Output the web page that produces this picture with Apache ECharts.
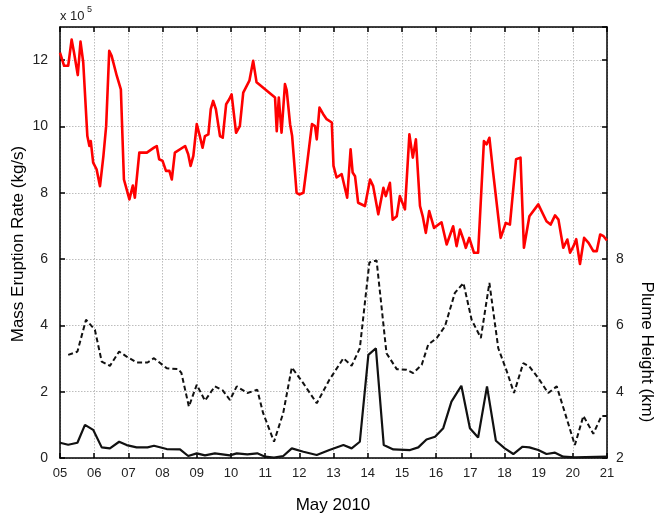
<!DOCTYPE html>
<html>
<head>
<meta charset="utf-8">
<script src="https://cdn.jsdelivr.net/npm/echarts@6/dist/echarts.min.js"></script>
<style>
html,body{margin:0;padding:0;background:#fff;}
#chart{width:659px;height:517px;}
</style>
</head>
<body>
<div id="chart"></div>
<script>
// Mass eruption rate (x 10^5 kg/s), red line
var redDays = [5.00,5.12,5.24,5.34,5.41,5.52,5.60,5.68,5.80,5.86,5.90,5.97,6.07,6.17,6.27,6.35,6.44,6.51,6.66,6.78,6.87,6.95,7.03,7.13,7.19,7.32,7.54,7.75,7.83,7.90,8.00,8.10,8.20,8.27,8.36,8.66,8.75,8.82,8.90,9.00,9.09,9.17,9.24,9.34,9.41,9.48,9.56,9.68,9.76,9.86,9.95,10.02,10.15,10.26,10.36,10.54,10.65,10.75,11.29,11.34,11.40,11.48,11.58,11.63,11.73,11.79,11.92,12.00,12.12,12.22,12.37,12.46,12.51,12.59,12.70,12.80,12.95,13.00,13.09,13.24,13.40,13.50,13.56,13.63,13.72,13.92,14.07,14.16,14.31,14.46,14.53,14.65,14.73,14.85,14.94,15.09,15.22,15.32,15.41,15.53,15.61,15.70,15.80,15.94,16.16,16.31,16.50,16.60,16.70,16.80,16.87,16.97,17.11,17.23,17.40,17.48,17.56,17.67,17.89,18.04,18.16,18.34,18.47,18.57,18.73,18.99,19.23,19.35,19.48,19.58,19.72,19.84,19.92,20.02,20.10,20.21,20.33,20.46,20.60,20.70,20.80,20.90,21.00];
var redValues = [12.23,11.83,11.83,12.62,12.23,11.55,12.56,11.93,9.71,9.41,9.56,8.91,8.71,8.20,9.11,10.01,12.28,12.13,11.53,11.12,8.40,8.10,7.80,8.22,7.85,9.21,9.21,9.36,9.41,9.01,8.96,8.66,8.66,8.40,9.21,9.41,9.16,8.81,9.11,10.07,9.71,9.36,9.71,9.76,10.52,10.77,10.52,9.71,9.66,10.67,10.82,10.97,9.81,10.01,11.02,11.38,11.98,11.33,10.87,9.86,10.87,9.81,11.28,11.10,10.07,9.71,8.00,7.95,8.00,8.81,10.07,10.01,9.61,10.57,10.37,10.22,10.12,8.81,8.46,8.56,7.85,9.31,8.61,8.50,7.70,7.60,8.40,8.20,7.35,8.15,7.90,8.30,7.19,7.29,7.90,7.50,9.76,9.06,9.61,7.60,7.29,6.79,7.45,6.94,7.11,6.44,6.99,6.39,6.89,6.59,6.34,6.64,6.19,6.19,9.56,9.46,9.66,8.61,6.64,7.09,7.04,9.01,9.06,6.34,7.29,7.65,7.14,7.04,7.32,7.19,6.34,6.59,6.19,6.39,6.60,5.85,6.64,6.49,6.24,6.24,6.74,6.69,6.56];

// Plume height (km), dashed black line, right axis
var plumeDays = [5.24,5.51,5.76,6.02,6.22,6.46,6.73,6.95,7.24,7.56,7.75,8.12,8.46,8.55,8.77,9.00,9.24,9.53,9.76,9.97,10.17,10.48,10.77,10.94,11.26,11.53,11.78,12.12,12.51,12.88,13.29,13.53,13.77,14.05,14.26,14.55,14.85,15.14,15.33,15.58,15.77,16.02,16.26,16.55,16.80,17.04,17.31,17.56,17.82,18.07,18.28,18.55,18.73,18.99,19.28,19.53,19.77,20.06,20.31,20.60,20.84,21.00];
var plumeKm = [5.11,5.21,6.17,5.87,4.91,4.78,5.21,5.06,4.88,4.88,5.01,4.71,4.68,4.57,3.55,4.21,3.73,4.16,4.04,3.75,4.16,3.96,4.06,3.36,2.49,3.36,4.73,4.25,3.65,4.36,5.01,4.78,5.31,7.90,7.96,5.16,4.68,4.66,4.56,4.81,5.42,5.62,5.97,6.98,7.28,6.17,5.62,7.28,5.31,4.61,3.96,4.86,4.76,4.41,3.96,4.16,3.36,2.39,3.27,2.73,3.27,3.27];

// Mass eruption rate derived from plume height (x 10^5 kg/s), solid black line
var merDays = [5.00,5.24,5.51,5.73,5.97,6.22,6.46,6.73,6.95,7.24,7.56,7.75,8.12,8.51,8.75,9.00,9.24,9.53,9.97,10.17,10.48,10.77,11.00,11.26,11.53,11.78,12.12,12.51,12.88,13.29,13.53,13.77,14.02,14.24,14.47,14.75,15.24,15.48,15.72,15.97,16.21,16.45,16.74,16.99,17.23,17.49,17.75,18.01,18.26,18.53,18.73,18.99,19.23,19.48,19.72,20.06,21.00];
var merValues = [0.46,0.40,0.46,1.00,0.85,0.32,0.29,0.49,0.39,0.32,0.32,0.37,0.27,0.26,0.06,0.14,0.08,0.14,0.08,0.14,0.11,0.14,0.04,0.01,0.06,0.29,0.19,0.09,0.24,0.39,0.29,0.49,3.11,3.31,0.39,0.26,0.24,0.32,0.56,0.64,0.90,1.70,2.18,0.90,0.62,2.16,0.52,0.29,0.12,0.34,0.32,0.24,0.12,0.16,0.04,0.02,0.04];

var dayTicks = ['05','06','07','08','09','10','11','12','13','14','15','16','17','18','19','20','21'];

function zip(a, b) { return a.map(function (d, i) { return [d, b[i]]; }); }

var chart = echarts.init(document.getElementById('chart'));
var FONT = 'Liberation Sans';
chart.setOption({
  animation: false,
  backgroundColor: '#fff',
  grid: { left: 60, right: 52, top: 27, bottom: 59, show: false },
  xAxis: [{
    type: 'value', min: 5, max: 21, interval: 1, position: 'bottom',
    axisLine: { show: true, onZero: false, lineStyle: { color: '#000', width: 1.5 } },
    axisTick: { show: true, inside: true, length: 5, lineStyle: { color: '#000', width: 1.5 } },
    axisLabel: { color: '#222', fontFamily: FONT, fontSize: 13, margin: 9,
      formatter: function (v) { return dayTicks[Math.round(v) - 5]; } },
    splitLine: { show: true, lineStyle: { color: '#bdbdbd', type: [1.5, 1.5], width: 1 } }
  }, {
    type: 'value', min: 5, max: 21, interval: 1, position: 'top',
    axisLine: { show: true, onZero: false, lineStyle: { color: '#000', width: 1.5 } },
    axisTick: { show: true, inside: true, length: 5, lineStyle: { color: '#000', width: 1.5 } },
    axisLabel: { show: false },
    splitLine: { show: false }
  }],
  yAxis: [{
    type: 'value', min: 0, max: 13, interval: 2, position: 'left',
    axisLine: { show: true, onZero: false, lineStyle: { color: '#000', width: 1.5 } },
    axisTick: { show: true, inside: true, length: 5, lineStyle: { color: '#000', width: 1.5 } },
    axisLabel: { color: '#222', fontFamily: FONT, fontSize: 14, margin: 12, showMaxLabel: false,
      formatter: function (v) { return v % 2 === 0 ? String(v) : ''; } },
    splitLine: { show: true, lineStyle: { color: '#bdbdbd', type: [1.5, 1.5], width: 1 } }
  }, {
    type: 'value', min: 2, max: 15, interval: 2, position: 'right',
    axisLine: { show: true, onZero: false, lineStyle: { color: '#000', width: 1.5 } },
    axisTick: { show: true, inside: true, length: 5, lineStyle: { color: '#000', width: 1.5 } },
    axisLabel: { color: '#222', fontFamily: FONT, fontSize: 14, margin: 9,
      formatter: function (v) { return v <= 8 ? String(v) : ''; } },
    splitLine: { show: false }
  }],
  series: [{
    name: 'Mass Eruption Rate', type: 'line', xAxisIndex: 0, yAxisIndex: 0,
    data: zip(redDays, redValues), showSymbol: false, symbol: 'none',
    lineStyle: { color: '#ff0000', width: 2.6, join: 'round' }, z: 3
  }, {
    name: 'Plume Height', type: 'line', xAxisIndex: 0, yAxisIndex: 1,
    data: zip(plumeDays, plumeKm), showSymbol: false, symbol: 'none',
    lineStyle: { color: '#111', width: 2, type: [5, 3] }, z: 2
  }, {
    name: 'MER from plume height', type: 'line', xAxisIndex: 0, yAxisIndex: 0,
    data: zip(merDays, merValues), showSymbol: false, symbol: 'none',
    lineStyle: { color: '#111', width: 2.2 }, z: 2
  }],
  graphic: [{
    type: 'text', x: 18, y: 244, rotation: Math.PI / 2,
    style: { text: 'Mass Eruption Rate (kg/s)', font: '17px "Liberation Sans"', fill: '#000',
      textAlign: 'center', textVerticalAlign: 'middle' }
  }, {
    type: 'text', x: 647, y: 352, rotation: -Math.PI / 2,
    style: { text: 'Plume Height (km)', font: '17px "Liberation Sans"', fill: '#000',
      textAlign: 'center', textVerticalAlign: 'middle' }
  }, {
    type: 'text', x: 333, y: 505,
    style: { text: 'May 2010', font: '17px "Liberation Sans"', fill: '#000',
      textAlign: 'center', textVerticalAlign: 'middle' }
  }, {
    type: 'text', x: 60, y: 10,
    style: { text: 'x 10', font: '13px "Liberation Sans"', fill: '#222',
      textAlign: 'left', textVerticalAlign: 'top' }
  }, {
    type: 'text', x: 87, y: 5,
    style: { text: '5', font: '9px "Liberation Sans"', fill: '#222',
      textAlign: 'left', textVerticalAlign: 'top' }
  }]
});
</script>
</body>
</html>
